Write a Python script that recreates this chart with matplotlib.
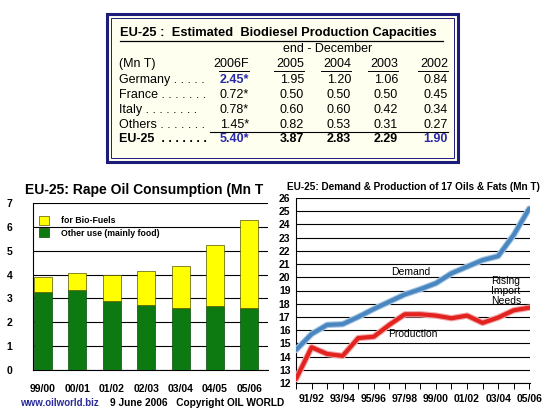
import numpy as np
import matplotlib
matplotlib.use("Agg")
import matplotlib.pyplot as plt
from matplotlib.patches import Rectangle, Patch
from matplotlib.lines import Line2D

plt.rcParams['font.family'] = ['Liberation Sans', 'DejaVu Sans']

# table data
tbl_years = ["2006F", "2005", "2004", "2003", "2002"]
tbl_rows = ["Germany . . . . .", "France . . . . . . .", "Italy . . . . . . . .",
            "Others . . . . . . .", "EU-25  . . . . . . ."]
tbl_vals = [
    ["2.45*", "1.95", "1.20", "1.06", "0.84"],
    ["0.72*", "0.50", "0.50", "0.50", "0.45"],
    ["0.78*", "0.60", "0.60", "0.42", "0.34"],
    ["1.45*", "0.82", "0.53", "0.31", "0.27"],
    ["5.40*", "3.87", "2.83", "2.29", "1.90"],
]

# rape oil consumption
seasons = ["99/00", "00/01", "01/02", "02/03", "03/04", "04/05", "05/06"]
other_use = [3.28, 3.35, 2.89, 2.71, 2.60, 2.69, 2.60]
total_use = [3.91, 4.08, 3.99, 4.13, 4.34, 5.26, 6.30]
biofuel = [t - o for t, o in zip(total_use, other_use)]

# demand & production of 17 oils & fats
years = ["90/91", "91/92", "92/93", "93/94", "94/95", "95/96", "96/97", "97/98",
         "98/99", "99/00", "00/01", "01/02", "02/03", "03/04", "04/05", "05/06"]
demand = [14.5, 15.7, 16.4, 16.45, 17.0, 17.6, 18.15, 18.7,
          19.1, 19.55, 20.3, 20.8, 21.3, 21.6, 23.2, 25.2]
production = [12.3, 14.7, 14.2, 14.05, 15.4, 15.5, 16.4, 17.2,
              17.2, 17.1, 16.9, 17.1, 16.55, 16.95, 17.5, 17.7]

W, H = 551, 415
fig = plt.figure(figsize=(W / 100, H / 100), dpi=100)
fig.patch.set_facecolor("white")


def px(x, y):
    return x / W, 1 - y / H


# ---- table box ----
navy = "#1c1c7a"
blue = "#2a2aa8"
x0, y0 = px(107, 162)
fig.patches.append(Rectangle((x0, y0), 351 / W, 148 / H, transform=fig.transFigure,
                             facecolor="#fffff0", edgecolor=navy, lw=2.2))
x1, y1 = px(111, 158)
fig.patches.append(Rectangle((x1, y1), 343 / W, 140 / H, transform=fig.transFigure,
                             facecolor="none", edgecolor=navy, lw=0.7))

fig.text(*px(120, 33), "EU-25 :  Estimated  Biodiesel Production Capacities",
         fontsize=9.3, fontweight="bold", va="center", ha="left")
fig.add_artist(Line2D([120 / W, 443 / W], [1 - 41 / H] * 2, color="black", lw=0.9))
fig.text(*px(328, 49), "end - December", fontsize=9, va="center", ha="center")
fig.text(*px(119, 64), "(Mn T)", fontsize=9, va="center", ha="left")

col_right = [249, 304, 351, 398, 448]
row_y = [80, 95, 110, 125, 139]
for cx, yr in zip(col_right, tbl_years):
    fig.text(*px(cx, 64), yr, fontsize=9, va="center", ha="right")
    fig.add_artist(Line2D([(cx - 30) / W, cx / W], [1 - 71 / H] * 2, color="black", lw=0.7))

for i, (lab, ry) in enumerate(zip(tbl_rows, row_y)):
    bold = "bold" if i == 4 else "normal"
    fig.text(*px(119, ry), lab, fontsize=9, va="center", ha="left", fontweight=bold)
    for j, (cx, v) in enumerate(zip(col_right, tbl_vals[i])):
        is_blue = (j == 0 and i in (0, 4)) or (i == 4 and j == 4)
        c = blue if is_blue else "black"
        w = "bold" if (i == 4 or is_blue) else "normal"
        fig.text(*px(cx, ry), v, fontsize=9, va="center", ha="right", color=c, fontweight=w)
fig.add_artist(Line2D([210 / W, 448 / W], [1 - 132 / H] * 2, color="black", lw=0.8))

# ---- left chart: rape oil ----
ax1 = fig.add_axes([33 / W, 1 - 370 / H, 235 / W, 167 / H])
x = np.arange(len(seasons))
ax1.bar(x, other_use, width=0.52, color="#0c7a10", edgecolor="#0a4a0a", lw=0.5,
        label="Other use (mainly food)", zorder=3)
ax1.bar(x, biofuel, width=0.52, bottom=other_use, color="#ffff00", edgecolor="#555500",
        lw=0.5, label="for Bio-Fuels", zorder=3)
ax1.set_xlim(-0.29, 6.54)
ax1.set_ylim(0, 7)
ax1.set_yticks(range(0, 8))
ax1.set_xticks(x)
ax1.set_xticklabels(seasons)
ax1.yaxis.grid(True, color="black", lw=0.8)
ax1.set_axisbelow(True)
for s in ["top", "right"]:
    ax1.spines[s].set_visible(False)
ax1.spines["left"].set_color("black")
ax1.spines["bottom"].set_color("black")
ax1.tick_params(length=0, labelsize=7.5, pad=10)
ax1.tick_params(axis="y", pad=17)
for t in ax1.get_xticklabels() + ax1.get_yticklabels():
    t.set_fontweight("bold")
for t in ax1.get_yticklabels():
    t.set_horizontalalignment("center")
h = [Patch(facecolor="#ffff00", edgecolor="#555500", lw=0.5),
     Patch(facecolor="#0c7a10", edgecolor="#0a4a0a", lw=0.5)]
leg = ax1.legend(h, ["for Bio-Fuels", "Other use (mainly food)"], loc="upper left",
                 bbox_to_anchor=(-0.01, 0.97), frameon=False,
                 handlelength=1.2, handleheight=1.2, handletextpad=1.4, labelspacing=0.35,
                 prop={"weight": "bold", "size": 6.3})
fig.text(*px(25, 190), "EU-25: Rape Oil Consumption (Mn T", fontsize=10,
         fontweight="bold", va="center", ha="left")

fig.text(*px(20, 403), "www.oilworld.biz", fontsize=7, fontweight="bold",
         color="#2a2a9a", va="center", ha="left")
fig.text(*px(110, 403), "9 June 2006   Copyright OIL WORLD", fontsize=7.3,
         fontweight="bold", va="center", ha="left")

# ---- right chart: demand & production ----
ax2 = fig.add_axes([296 / W, 1 - 383 / H, 234 / W, 185 / H])
xi = np.arange(len(years))
ax2.plot(xi, demand, color="#a8c8e4", lw=4.6, solid_capstyle="round", zorder=3)
ax2.plot(xi, demand, color="#4a86c0", lw=3.0, solid_capstyle="round", zorder=4)
ax2.plot(xi, production, color="#f2a8a8", lw=4.6, solid_capstyle="round", zorder=3)
ax2.plot(xi, production, color="#e2231f", lw=3.0, solid_capstyle="round", zorder=4)
ax2.set_xlim(0, len(years) - 1 + 0.05)
ax2.set_ylim(12, 26)
ax2.set_yticks(range(12, 27))
ax2.set_xticks(xi)
ax2.set_xticklabels([y if i % 2 == 1 else "" for i, y in enumerate(years)])
ax2.yaxis.grid(True, color="black", lw=0.8)
ax2.set_axisbelow(True)
for s in ["top", "right"]:
    ax2.spines[s].set_visible(False)
ax2.tick_params(axis="x", length=4, width=0.7, labelsize=7.5, pad=4)
ax2.tick_params(axis="y", length=0, labelsize=7.5, pad=4)
for t in ax2.get_xticklabels() + ax2.get_yticklabels():
    t.set_fontweight("bold")
ax2.text(7.4, 20.4, "Demand", fontsize=7.5, ha="center", va="center")
ax2.text(7.5, 15.7, "Production", fontsize=7.5, ha="center", va="center")
ax2.text(13.5, 19.0, "Rising\nImport\nNeeds", fontsize=7.5, ha="center", va="center",
         linespacing=1.0)
fig.text(*px(287, 187), "EU-25: Demand & Production of 17 Oils & Fats (Mn T)",
         fontsize=7.2, fontweight="bold", va="center", ha="left")

fig.savefig("out.png", dpi=100)
